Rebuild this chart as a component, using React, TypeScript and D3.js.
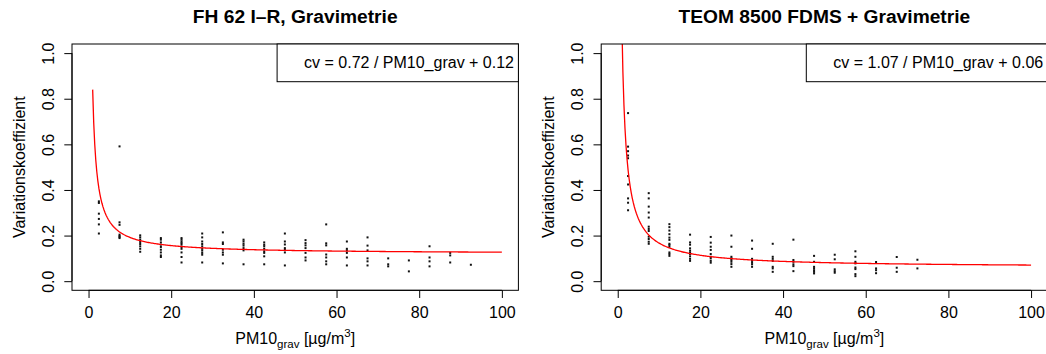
import { useEffect, useRef } from 'react'
import * as d3 from 'd3'

// bin centres (PM10_grav, µg/m³) and the cv values plotted in each bin
const fhBins = [2.5, 7.5, 12.5, 17.5, 22.5, 27.5, 32.5, 37.5, 42.5, 47.5, 52.5, 57.5, 62.5, 67.5, 72.5, 77.5, 82.5, 87.5, 92.5]
const fhCv = [
  [0.350, 0.343, 0.296, 0.273, 0.249, 0.209],
  [0.591, 0.258, 0.247, 0.204, 0.198, 0.193, 0.189],
  [0.201, 0.192, 0.182, 0.172, 0.163, 0.153, 0.142, 0.129],
  [0.189, 0.182, 0.170, 0.160, 0.150, 0.138, 0.126, 0.113, 0.106],
  [0.189, 0.182, 0.174, 0.167, 0.160, 0.150, 0.142, 0.126, 0.106, 0.082],
  [0.209, 0.192, 0.174, 0.163, 0.153, 0.142, 0.134, 0.124, 0.116, 0.082],
  [0.214, 0.170, 0.163, 0.138, 0.126, 0.116, 0.078],
  [0.182, 0.174, 0.164, 0.156, 0.145, 0.135, 0.074],
  [0.170, 0.160, 0.153, 0.142, 0.131, 0.124, 0.109, 0.074],
  [0.209, 0.174, 0.161, 0.145, 0.138, 0.126, 0.069],
  [0.180, 0.167, 0.157, 0.145, 0.124, 0.104, 0.091],
  [0.249, 0.166, 0.157, 0.117, 0.104, 0.087, 0.074],
  [0.174, 0.142, 0.135, 0.124, 0.104, 0.069],
  [0.192, 0.156, 0.135, 0.100, 0.087, 0.069],
  [0.100, 0.074, 0.065],
  [0.091, 0.043],
  [0.153, 0.104, 0.087, 0.065],
  [0.124, 0.113, 0.082],
  [0.072],
]

const teomBins = [2.5, 7.5, 12.5, 17.5, 22.5, 27.5, 32.5, 37.5, 42.5, 47.5, 52.5, 57.5, 62.5, 67.5, 72.5]
const teomCv = [
  [0.737, 0.590, 0.570, 0.551, 0.539, 0.461, 0.424, 0.363, 0.344, 0.311],
  [0.386, 0.363, 0.327, 0.301, 0.279, 0.239, 0.229, 0.220, 0.195, 0.185, 0.173, 0.164],
  [0.250, 0.237, 0.222, 0.206, 0.191, 0.181, 0.164, 0.159, 0.151, 0.126, 0.119, 0.111],
  [0.204, 0.170, 0.160, 0.144, 0.134, 0.126, 0.119, 0.109, 0.098, 0.089],
  [0.194, 0.169, 0.151, 0.137, 0.119, 0.107, 0.100, 0.089, 0.081],
  [0.200, 0.151, 0.107, 0.100, 0.093, 0.085, 0.075, 0.063],
  [0.178, 0.142, 0.098, 0.089, 0.081, 0.074, 0.063],
  [0.164, 0.107, 0.098, 0.089, 0.063, 0.056, 0.041],
  [0.182, 0.093, 0.085, 0.074, 0.066, 0.044],
  [0.111, 0.085, 0.063, 0.056, 0.048, 0.041, 0.034],
  [0.116, 0.096, 0.052, 0.044, 0.037],
  [0.131, 0.107, 0.085, 0.078, 0.060, 0.053, 0.031, 0.022],
  [0.084, 0.056, 0.048, 0.035],
  [0.106, 0.059, 0.041],
  [0.094, 0.056],
]

// fitted curves cv = a / PM10_grav + b
const fhFit = [0.72, 0.12]
const teomFit = [1.07, 0.06]

const titles = ['FH 62 I\u2013R, Gravimetrie', 'TEOM 8500 FDMS + Gravimetrie']
const legendTexts = ['cv = 0.72 / PM10_grav + 0.12', 'cv = 1.07 / PM10_grav + 0.06']
const xTicks = [0, 20, 40, 60, 80, 100]
const yTicks = [0, 0.2, 0.4, 0.6, 0.8, 1.0]

const width = 1046
const height = 354
const font = '"Liberation Sans", Arial, sans-serif'

export default function App() {
  const svgRef = useRef<SVGSVGElement>(null)

  useEffect(() => {
    if (!svgRef.current) return
    const svg = d3.select(svgRef.current)
    svg.selectAll('*').remove()

    const top = 44
    const bottom = 290.3
    const boxW = 446.4

    const panels = [
      { left: 72, bins: fhBins, cv: fhCv, fit: fhFit },
      { left: 601.2, bins: teomBins, cv: teomCv, fit: teomFit },
    ]

    const y = d3.scaleLinear().domain([-0.04, 1.04]).range([bottom, top])

    panels.forEach((p, i) => {
      const x = d3.scaleLinear().domain([-4, 104]).range([p.left, p.left + boxW])
      const g = svg.append('g')

      const clipId = `clip${i}`
      svg.append('clipPath').attr('id', clipId)
        .append('rect')
        .attr('x', p.left).attr('y', top)
        .attr('width', boxW).attr('height', bottom - top)

      // points
      const pts = p.bins.flatMap((b, j) => p.cv[j].map(v => ({ b, v })))
      g.selectAll('.pt')
        .data(pts)
        .enter().append('rect')
        .attr('class', 'pt')
        .attr('x', d => x(d.b) - 1)
        .attr('y', d => y(d.v) - 1)
        .attr('width', 2)
        .attr('height', 2)
        .attr('fill', '#111')

      // fitted curve
      const [a, b] = p.fit
      const xs = d3.range(1, 100.001, 0.25)
      const line = d3.line<number>()
        .x(d => x(d))
        .y(d => y(a / d + b))
      g.append('path')
        .datum(xs)
        .attr('d', line)
        .attr('fill', 'none')
        .attr('stroke', '#ff0000')
        .attr('stroke-width', 1.3)
        .attr('clip-path', `url(#${clipId})`)

      // box
      g.append('rect')
        .attr('x', p.left).attr('y', top)
        .attr('width', boxW).attr('height', bottom - top)
        .attr('fill', 'none').attr('stroke', '#000').attr('stroke-width', 1)

      // x axis
      const xa = g.append('g').attr('transform', `translate(0,${bottom})`)
        .call(d3.axisBottom(x).tickValues(xTicks).tickSize(7.7).tickPadding(5).tickFormat(d3.format('d')))
      xa.select('.domain').attr('d', `M${x(0)},0H${x(100)}`)
      xa.selectAll('text').attr('font-size', 16).attr('font-family', font).attr('fill', '#000')
        .attr('dy', null).attr('y', 28.2)

      // y axis
      const ya = g.append('g').attr('transform', `translate(${p.left},0)`)
        .call(d3.axisLeft(y).tickValues(yTicks).tickSize(7.7).tickFormat(d3.format('.1f')))
      ya.select('.domain').attr('d', `M0,${y(0)}V${y(1)}`)
      ya.selectAll('text')
        .attr('font-size', 16).attr('font-family', font).attr('fill', '#000')
        .attr('x', null).attr('dy', null)
        .attr('text-anchor', 'middle')
        .attr('transform', 'translate(-18.5,0) rotate(-90)')

      // y title
      svg.append('text')
        .attr('transform', `translate(${p.left - 47},${(top + bottom) / 2}) rotate(-90)`)
        .attr('text-anchor', 'middle')
        .attr('font-size', 16).attr('font-family', font)
        .text('Variationskoeffizient')

      // x title
      const xt = svg.append('text')
        .attr('x', p.left + boxW / 2).attr('y', 343.5)
        .attr('text-anchor', 'middle')
        .attr('font-size', 16).attr('font-family', font)
      xt.append('tspan').text('PM10')
      xt.append('tspan').attr('font-size', 11.5).attr('dy', 4).text('grav')
      xt.append('tspan').attr('dy', -4).text(' [\u00b5g/m')
      xt.append('tspan').attr('font-size', 11.5).attr('dy', -6.5).text('3')
      xt.append('tspan').attr('dy', 6.5).text(']')

      // title
      svg.append('text')
        .attr('x', p.left + boxW / 2).attr('y', 23)
        .attr('text-anchor', 'middle')
        .attr('font-size', 19.2).attr('font-weight', 'bold').attr('font-family', font)
        .text(titles[i])

      // legend
      const lx = p.left + boxW - 241.3
      g.append('rect')
        .attr('x', lx).attr('y', top)
        .attr('width', 241.3).attr('height', 37.7)
        .attr('fill', '#fff').attr('stroke', '#000').attr('stroke-width', 1)
      g.append('text')
        .attr('x', lx + 27).attr('y', 68.3)
        .attr('font-size', 16).attr('font-family', font)
        .text(legendTexts[i])
    })
  }, [])

  return (
    <svg
      ref={svgRef}
      width={width}
      height={height}
      style={{ position: 'absolute', left: 0, top: 0, background: '#fff' }}
    />
  )
}
